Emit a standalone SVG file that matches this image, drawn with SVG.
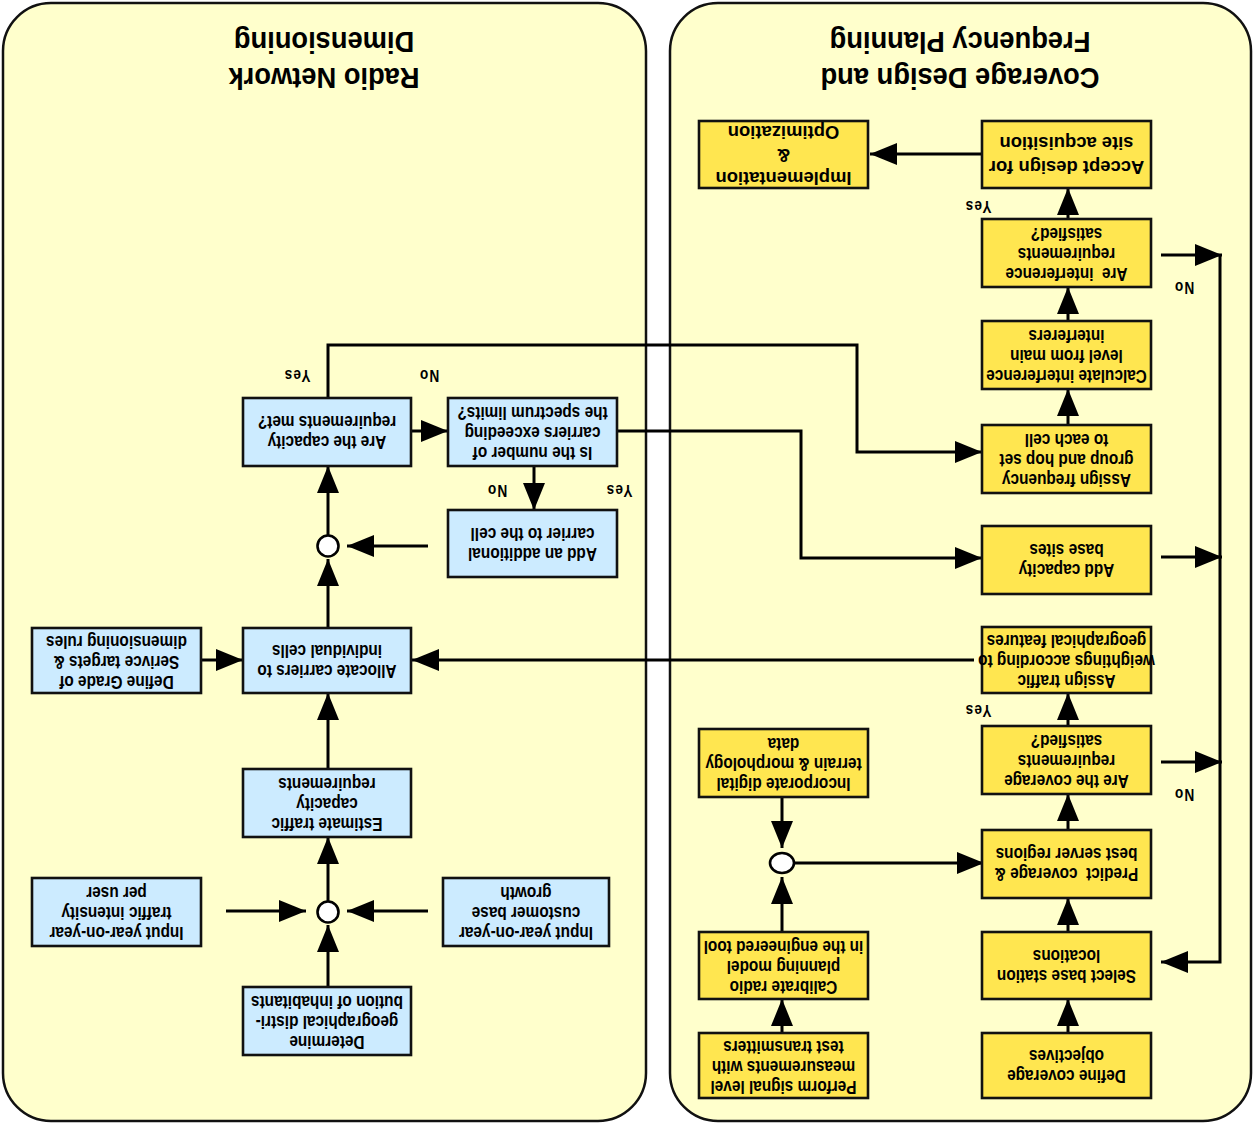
<svg xmlns="http://www.w3.org/2000/svg" width="1255" height="1124" viewBox="0 0 1255 1124">
<style>
.panel{fill:#FFFFCC;stroke:#111;stroke-width:2.5}
.bb{fill:#CCEBFF;stroke:#111;stroke-width:2.6}
.yb{fill:#FFE650;stroke:#111;stroke-width:2.6}
.t{font-family:"Liberation Sans",Arial,sans-serif;font-weight:bold;font-size:19px;fill:#000;text-anchor:middle}
.tb{font-family:"Liberation Sans",Arial,sans-serif;font-weight:bold;font-size:19px;fill:#000;text-anchor:middle}
.title{font-family:"Liberation Sans",Arial,sans-serif;font-weight:bold;font-size:30px;fill:#000;text-anchor:middle}
.lbl{font-family:"Liberation Sans",Arial,sans-serif;font-weight:bold;font-size:16px;fill:#000;text-anchor:middle;letter-spacing:1.5px}
.c{fill:none;stroke:#000;stroke-width:3}
.a{fill:none;stroke:#000;stroke-width:3;marker-end:url(#ah)}
.circ{fill:#fff;stroke:#000;stroke-width:2.6}
</style>
<defs>
<marker id="ah" markerUnits="userSpaceOnUse" markerWidth="28" markerHeight="24" refX="27" refY="11" orient="auto">
<path d="M0,0 L27,11 L0,22 z" fill="#000"/>
</marker>
</defs>

<g id="panel-left">
<rect class="panel" x="3" y="3" width="643" height="1118" rx="48" ry="48"/>
<text class="title" transform="translate(324,61) rotate(180) scale(0.91,1)"><tspan x="0" y="-7.3">Radio Network</tspan><tspan x="0" y="28.7">Dimensioning</tspan></text>
</g>
<g id="panel-right">
<rect class="panel" x="670" y="3" width="581" height="1118" rx="48" ry="48"/>
<text class="title" transform="translate(960,61) rotate(180) scale(0.91,1)"><tspan x="0" y="-7.3">Coverage Design and</tspan><tspan x="0" y="28.7">Frequency Planning</tspan></text>
</g>

<g id="connectors">
<line class="a" x1="982" y1="154" x2="870" y2="154"/>
<line class="a" x1="1068" y1="219" x2="1068" y2="188"/>
<line class="a" x1="1068" y1="321" x2="1068" y2="287"/>
<line class="a" x1="1068" y1="425" x2="1068" y2="389"/>
<line class="a" x1="1161" y1="255" x2="1222" y2="255"/>
<line class="a" x1="1161" y1="557" x2="1222" y2="557"/>
<line class="a" x1="1161" y1="762" x2="1222" y2="762"/>
<path class="a" d="M1220,255 L1220,962 L1161,962"/>
<line class="a" x1="974" y1="660" x2="412" y2="660"/>
<line class="a" x1="1068" y1="726" x2="1068" y2="693"/>
<line class="a" x1="1068" y1="830" x2="1068" y2="794"/>
<line class="a" x1="1068" y1="932" x2="1068" y2="898"/>
<line class="a" x1="1068" y1="1033" x2="1068" y2="999"/>
<line class="a" x1="782" y1="797" x2="782" y2="848"/>
<line class="a" x1="795" y1="863" x2="984" y2="863"/>
<line class="a" x1="782" y1="932" x2="782" y2="877"/>
<line class="a" x1="782" y1="1033" x2="782" y2="999"/>
<line class="a" x1="409" y1="431" x2="448" y2="431"/>
<path class="a" d="M328,398 L328,345 L857,345 L857,452 L982,452"/>
<path class="a" d="M617,431 L801,431 L801,558 L982,558"/>
<line class="a" x1="534" y1="466" x2="534" y2="510"/>
<line class="a" x1="428" y1="546" x2="347" y2="546"/>
<line class="a" x1="328" y1="535" x2="328" y2="466"/>
<line class="a" x1="328" y1="628" x2="328" y2="559"/>
<line class="a" x1="198" y1="660" x2="243" y2="660"/>
<line class="a" x1="328" y1="769" x2="328" y2="693"/>
<line class="a" x1="328" y1="901" x2="328" y2="837"/>
<line class="a" x1="226" y1="911" x2="306" y2="911"/>
<line class="a" x1="428" y1="911" x2="347" y2="911"/>
<line class="a" x1="328" y1="987" x2="328" y2="925"/>
</g>

<g id="labels">
<text class="lbl" transform="translate(978,207) rotate(180) scale(0.85,1)" y="5.8">Yes</text>
<text class="lbl" transform="translate(1184,288) rotate(180) scale(0.85,1)" y="5.8">No</text>
<text class="lbl" transform="translate(978,711) rotate(180) scale(0.85,1)" y="5.8">Yes</text>
<text class="lbl" transform="translate(1184,795) rotate(180) scale(0.85,1)" y="5.8">No</text>
<text class="lbl" transform="translate(297,376) rotate(180) scale(0.85,1)" y="5.8">Yes</text>
<text class="lbl" transform="translate(429,376) rotate(180) scale(0.85,1)" y="5.8">No</text>
<text class="lbl" transform="translate(619,491) rotate(180) scale(0.85,1)" y="5.8">Yes</text>
<text class="lbl" transform="translate(497,491) rotate(180) scale(0.85,1)" y="5.8">No</text>
</g>

<g id="junction-1"><ellipse class="circ" cx="782" cy="863" rx="12" ry="10"/></g>
<g id="junction-2"><circle class="circ" cx="328" cy="546" r="10.5"/></g>
<g id="junction-3"><circle class="circ" cx="328" cy="912" r="10.5"/></g>

<g id="n-determine"><rect class="bb" x="243" y="987" width="168" height="68"/>
<text class="t" transform="translate(327,1021) rotate(180) scale(0.81,1)"><tspan x="0" y="-15.2">Determine</tspan><tspan x="0" y="4.8">geographical distri-</tspan><tspan x="0" y="24.8">bution of inhabitants</tspan></text></g>
<g id="n-input-traffic"><rect class="bb" x="32" y="878" width="169" height="68"/>
<text class="t" transform="translate(116.5,912) rotate(180) scale(0.81,1)"><tspan x="0" y="-15.2">Input year-on-year</tspan><tspan x="0" y="4.8">traffic intensity</tspan><tspan x="0" y="24.8">per user</tspan></text></g>
<g id="n-input-customer"><rect class="bb" x="443" y="878" width="166" height="68"/>
<text class="t" transform="translate(526,912) rotate(180) scale(0.81,1)"><tspan x="0" y="-15.2">Input year-on-year</tspan><tspan x="0" y="4.8">customer base</tspan><tspan x="0" y="24.8">growth</tspan></text></g>
<g id="n-estimate"><rect class="bb" x="243" y="769" width="168" height="68"/>
<text class="t" transform="translate(327,803) rotate(180) scale(0.81,1)"><tspan x="0" y="-15.2">Estimate traffic</tspan><tspan x="0" y="4.8">capacity</tspan><tspan x="0" y="24.8">requirements</tspan></text></g>
<g id="n-allocate"><rect class="bb" x="243" y="628" width="168" height="65"/>
<text class="t" transform="translate(327,660.5) rotate(180) scale(0.81,1)"><tspan x="0" y="-4.2">Allocate carriers to</tspan><tspan x="0" y="15.8">individual cells</tspan></text></g>
<g id="n-gos"><rect class="bb" x="32" y="628" width="169" height="65"/>
<text class="t" transform="translate(116.5,660.5) rotate(180) scale(0.81,1)"><tspan x="0" y="-15.2">Define Grade of</tspan><tspan x="0" y="4.8">Serivce targets &amp;</tspan><tspan x="0" y="24.8">dimensioning rules</tspan></text></g>
<g id="n-add-carrier"><rect class="bb" x="448" y="510" width="169" height="67"/>
<text class="t" transform="translate(532.5,543.5) rotate(180) scale(0.81,1)"><tspan x="0" y="-4.2">Add an additional</tspan><tspan x="0" y="15.8">carrier to the cell</tspan></text></g>
<g id="n-capacity-met"><rect class="bb" x="243" y="398" width="168" height="68"/>
<text class="t" transform="translate(327,432) rotate(180) scale(0.81,1)"><tspan x="0" y="-4.2">Are the capacity</tspan><tspan x="0" y="15.8">requirements met?</tspan></text></g>
<g id="n-spectrum"><rect class="bb" x="448" y="398" width="169" height="68"/>
<text class="t" transform="translate(532.5,432) rotate(180) scale(0.81,1)"><tspan x="0" y="-15.2">Is the number of</tspan><tspan x="0" y="4.8">carriers exceeding</tspan><tspan x="0" y="24.8">the spectrum limits?</tspan></text></g>

<g id="n-accept"><rect class="yb" x="982" y="121" width="169" height="67"/>
<text class="tb" transform="translate(1066.5,154.5) rotate(180) scale(0.97,1)"><tspan x="0" y="-6.5">Accept design for</tspan><tspan x="0" y="17.5">site acquisition</tspan></text></g>
<g id="n-implementation"><rect class="yb" x="699" y="121" width="169" height="67"/>
<text class="tb" transform="translate(783.5,154.5) rotate(180) scale(0.97,1)"><tspan x="0" y="-17.2">Implementation</tspan><tspan x="0" y="5.8">&amp;</tspan><tspan x="0" y="28.8">Optimization</tspan></text></g>
<g id="n-interference-ok"><rect class="yb" x="982" y="219" width="169" height="68"/>
<text class="t" transform="translate(1066.5,253) rotate(180) scale(0.81,1)" xml:space="preserve"><tspan x="0" y="-15.2">Are  interference</tspan><tspan x="0" y="4.8">requirements</tspan><tspan x="0" y="24.8">satisfied?</tspan></text></g>
<g id="n-calc-interference"><rect class="yb" x="982" y="321" width="169" height="68"/>
<text class="t" transform="translate(1066.5,355) rotate(180) scale(0.81,1)"><tspan x="0" y="-15.2">Calculate interference</tspan><tspan x="0" y="4.8">level from main</tspan><tspan x="0" y="24.8">interferers</tspan></text></g>
<g id="n-assign-freq"><rect class="yb" x="982" y="425" width="169" height="68"/>
<text class="t" transform="translate(1066.5,459) rotate(180) scale(0.81,1)"><tspan x="0" y="-15.2">Assign frequency</tspan><tspan x="0" y="4.8">group and hop set</tspan><tspan x="0" y="24.8">to each cell</tspan></text></g>
<g id="n-add-capacity"><rect class="yb" x="982" y="526" width="169" height="68"/>
<text class="t" transform="translate(1066.5,560) rotate(180) scale(0.81,1)"><tspan x="0" y="-4.2">Add capacity</tspan><tspan x="0" y="15.8">base sites</tspan></text></g>
<g id="n-assign-traffic"><rect class="yb" x="982" y="627" width="169" height="66"/>
<text class="t" transform="translate(1066.5,660) rotate(180) scale(0.81,1)"><tspan x="0" y="-15.2">Assign traffic</tspan><tspan x="0" y="4.8">weightings according to</tspan><tspan x="0" y="24.8">geographical features</tspan></text></g>
<g id="n-coverage-ok"><rect class="yb" x="982" y="726" width="169" height="68"/>
<text class="t" transform="translate(1066.5,760) rotate(180) scale(0.81,1)"><tspan x="0" y="-15.2">Are the coverage</tspan><tspan x="0" y="4.8">requirements</tspan><tspan x="0" y="24.8">satisfied?</tspan></text></g>
<g id="n-predict"><rect class="yb" x="982" y="830" width="169" height="68"/>
<text class="t" transform="translate(1066.5,864) rotate(180) scale(0.81,1)" xml:space="preserve"><tspan x="0" y="-4.2">Predict  coverage &amp;</tspan><tspan x="0" y="15.8">best server regions</tspan></text></g>
<g id="n-select"><rect class="yb" x="982" y="932" width="169" height="67"/>
<text class="t" transform="translate(1066.5,965.5) rotate(180) scale(0.81,1)"><tspan x="0" y="-4.2">Select base station</tspan><tspan x="0" y="15.8">locations</tspan></text></g>
<g id="n-define-coverage"><rect class="yb" x="982" y="1033" width="169" height="65"/>
<text class="t" transform="translate(1066.5,1065.5) rotate(180) scale(0.81,1)"><tspan x="0" y="-4.2">Define coverage</tspan><tspan x="0" y="15.8">objectives</tspan></text></g>
<g id="n-incorporate"><rect class="yb" x="699" y="729" width="169" height="68"/>
<text class="t" transform="translate(783.5,763) rotate(180) scale(0.81,1)"><tspan x="0" y="-15.2">Incorporate digital</tspan><tspan x="0" y="4.8">terrain &amp; morphology</tspan><tspan x="0" y="24.8">data</tspan></text></g>
<g id="n-calibrate"><rect class="yb" x="699" y="932" width="169" height="67"/>
<text class="t" transform="translate(783.5,965.5) rotate(180) scale(0.81,1)"><tspan x="0" y="-15.2">Calibrate radio</tspan><tspan x="0" y="4.8">planning model</tspan><tspan x="0" y="24.8">in the engineered tool</tspan></text></g>
<g id="n-perform"><rect class="yb" x="699" y="1033" width="169" height="65"/>
<text class="t" transform="translate(783.5,1065.5) rotate(180) scale(0.81,1)"><tspan x="0" y="-15.2">Perform signal level</tspan><tspan x="0" y="4.8">measurements with</tspan><tspan x="0" y="24.8">test transmitters</tspan></text></g>
</svg>
